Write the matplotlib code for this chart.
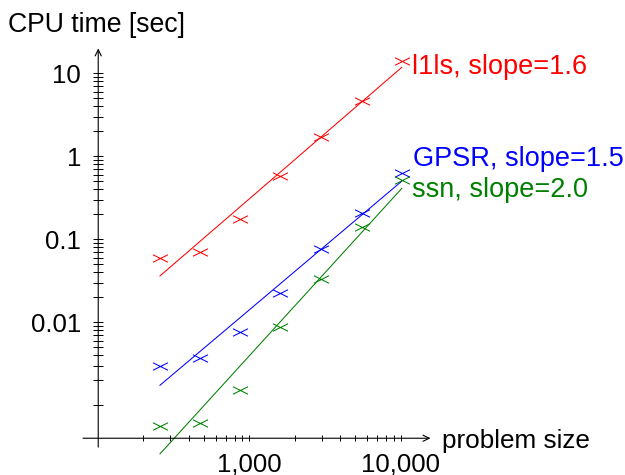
import numpy as np
import matplotlib
matplotlib.use('Agg')
import matplotlib.pyplot as plt
from matplotlib.path import Path
from matplotlib.ticker import FixedLocator, FixedFormatter, NullFormatter

# ---------------- data ----------------
problem_size = [257, 472, 868, 1597, 2965, 5520, 10160]
l1ls_time = [0.060, 0.071, 0.174, 0.584, 1.69, 4.68, 14.1]
gpsr_time = [0.00297, 0.00368, 0.00759, 0.0227, 0.0758, 0.206, 0.634]
ssn_time = [0.000569, 0.000617, 0.00153, 0.00885, 0.0332, 0.142, 0.518]

series_names = ['l1ls', 'GPSR', 'ssn']
series_slopes = ['1.6', '1.5', '2.0']
series_colors = ['#ff0000', '#0000ff', '#008000']

x_major = [1000, 10000]
x_major_labels = ['1,000', '10,000']
x_minor = [200, 300, 400, 500, 600, 700, 800, 900,
           2000, 3000, 4000, 5000, 6000, 7000, 8000, 9000]
y_major = [0.001, 0.01, 0.1, 1, 10]
y_major_labels = ['', '0.01', '0.1', '1', '10']
y_minor = [m * d for d in (0.001, 0.01, 0.1, 1) for m in range(2, 10)]

xlabel = 'problem size'
ylabel = 'CPU time [sec]'

# ---------------- style ----------------
plt.rcParams['font.family'] = ['Liberation Sans', 'DejaVu Sans']
FS = 18.5
FS_SERIES = 19.5

fig = plt.figure(figsize=(6.25, 4.75), dpi=100)
W, H = 625, 475
left, right, top, bottom = 83, 432, 47, 455
ax = fig.add_axes([left / W, (H - bottom) / H, (right - left) / W, (bottom - top) / H])
ax.set_xscale('log')
ax.set_yscale('log')
xlim = (10 ** 1.9016, 10 ** 4.2068)
ylim = (10 ** -3.600, 10 ** 1.317)
ax.set_xlim(*xlim)
ax.set_ylim(*ylim)
ax.patch.set_alpha(0)

x_axis_at_y = 4.0e-4
y_axis_at_x = 100.5
y_axis_bottom = 10 ** -3.505
y_arrow_top = 10 ** 1.30
x_arrow_right = 10 ** 4.197

for s in ax.spines.values():
    s.set_color('none')
ax.spines['left'].set_position(('data', y_axis_at_x))
ax.spines['bottom'].set_position(('data', x_axis_at_y))

arrow_kw = dict(arrowstyle='->,head_length=0.45,head_width=0.22', lw=0.8,
                color='black', shrinkA=0, shrinkB=0)
ax.annotate('', xy=(x_arrow_right, x_axis_at_y), xytext=(xlim[0], x_axis_at_y),
            arrowprops=arrow_kw, annotation_clip=False)
ax.annotate('', xy=(y_axis_at_x, y_arrow_top), xytext=(y_axis_at_x, y_axis_bottom),
            arrowprops=arrow_kw, annotation_clip=False)

ax.xaxis.set_major_locator(FixedLocator(x_major))
ax.xaxis.set_major_formatter(FixedFormatter(x_major_labels))
ax.xaxis.set_minor_locator(FixedLocator(x_minor))
ax.xaxis.set_minor_formatter(NullFormatter())
ax.yaxis.set_major_locator(FixedLocator(y_major))
ax.yaxis.set_major_formatter(FixedFormatter(y_major_labels))
ax.yaxis.set_minor_locator(FixedLocator(y_minor))
ax.yaxis.set_minor_formatter(NullFormatter())

ax.tick_params(axis='x', which='both', direction='inout', length=4.1, width=0.7,
               color='black', labelsize=FS, pad=8.0)
ax.tick_params(axis='y', which='both', direction='inout', length=7.7, width=0.7,
               color='black', labelsize=FS, pad=8.6)

# flattened x marker
xmark = Path([(-1, -0.5), (1, 0.5), (-1, 0.5), (1, -0.5)],
             [Path.MOVETO, Path.LINETO, Path.MOVETO, Path.LINETO])

label_offsets = [(7.2, -9.4), (8.0, 4.8), (7.6, -12.0)]
all_times = [l1ls_time, gpsr_time, ssn_time]
lx = np.log10(problem_size)
for times, name, slope, color, off in zip(all_times, series_names, series_slopes,
                                         series_colors, label_offsets):
    ly = np.log10(times)
    k, b = np.polyfit(lx, ly, 1)
    xf = np.array([lx[0], lx[-1]])
    ax.plot(10 ** xf, 10 ** (k * xf + b), color=color, lw=0.75, clip_on=False)
    ax.plot(problem_size, times, linestyle='none', marker=xmark, markersize=10.8,
            markeredgewidth=0.75, color=color, clip_on=False)
    ax.annotate(f'{name}, slope={slope}', xy=(problem_size[-1], times[-1]),
                xytext=off, textcoords='offset points', ha='left', va='baseline',
                color=color, fontsize=FS_SERIES, annotation_clip=False)

fig.text(8 / W, 1 - 32 / H, ylabel, ha='left', va='baseline', fontsize=19.2)
fig.text(442 / W, 1 - 448 / H, xlabel, ha='left', va='baseline', fontsize=18.8)

fig.savefig('out.png', dpi=100)
